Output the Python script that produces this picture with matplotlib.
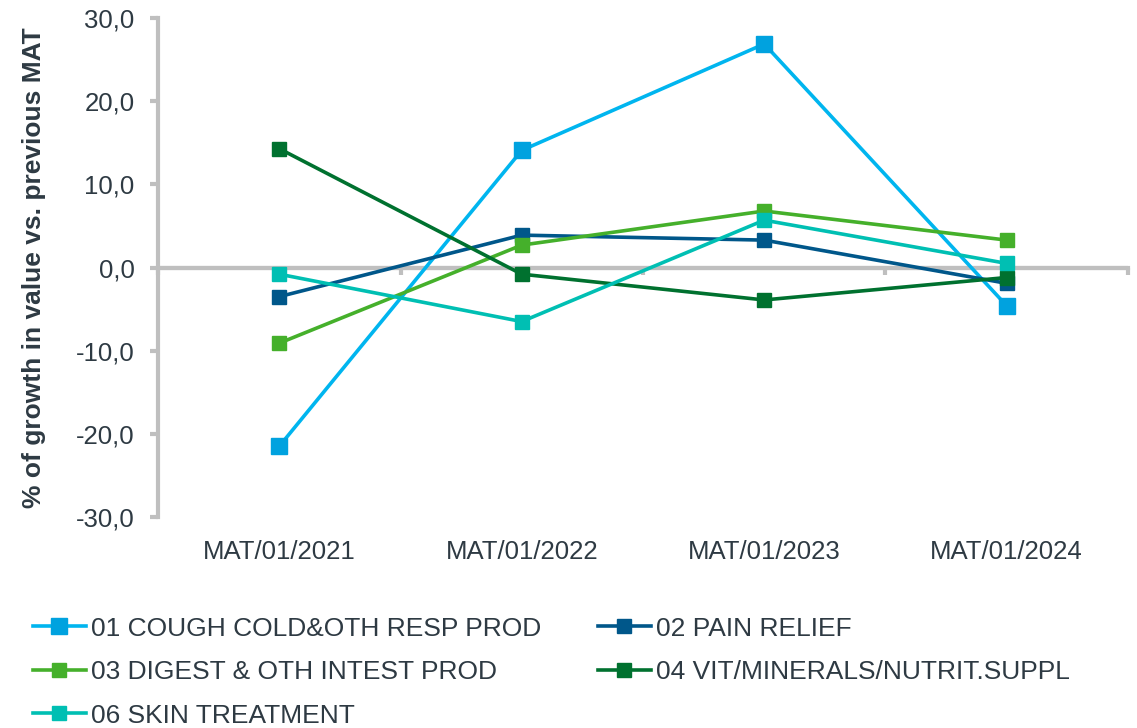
import numpy as np
import matplotlib.pyplot as plt

plt.rcParams['font.family'] = ['Liberation Sans', 'DejaVu Sans']

# data
periods = ['MAT/01/2021', 'MAT/01/2022', 'MAT/01/2023', 'MAT/01/2024']
cough = [-21.5, 14.1, 26.9, -4.6]
pain = [-3.5, 3.9, 3.3, -1.9]
digest = [-9.1, 2.7, 6.8, 3.3]
vitamins = [14.3, -0.8, -3.9, -1.2]
skin = [-0.8, -6.5, 5.7, 0.5]

names = ['01 COUGH COLD&OTH RESP PROD', '02 PAIN RELIEF',
         '03 DIGEST & OTH INTEST PROD', '04 VIT/MINERALS/NUTRIT.SUPPL',
         '06 SKIN TREATMENT']
line_cols = ['#00B5EF', '#00578A', '#45B02B', '#00712F', '#00BFB3']
mark_cols = ['#00A2DF', '#00578A', '#45B02B', '#00712F', '#00BFB3']
mark_size = [11, 10, 10, 10, 10]
series = [cough, pain, digest, vitamins, skin]

grey = '#BFBFBF'
txt = '#2E3A43'

fig = plt.figure(figsize=(11.37, 7.28), dpi=100)
ax = fig.add_axes([0.139, 0.290, 0.853, 0.685])

x = np.arange(len(periods))
handles = []
for vals, lc, mc, ms, name in zip(series, line_cols, mark_cols, mark_size, names):
    h, = ax.plot(x, vals, color=lc, lw=2.6, marker='s', ms=ms,
                 mfc=mc, mec=mc, label=name, zorder=3)
    handles.append(h)

ax.set_xlim(-0.5, 3.5)
ax.set_ylim(-30, 30)

# left axis
ax.spines['left'].set_color(grey)
ax.spines['left'].set_linewidth(3)
for s in ['top', 'right', 'bottom']:
    ax.spines[s].set_visible(False)
yt = np.arange(-30, 31, 10)
ax.set_yticks(yt)
ax.set_yticklabels(['{:.1f}'.format(v).replace('.', ',') for v in yt])
ax.tick_params(axis='y', direction='out', length=6, width=3, color=grey,
               labelsize=18.5, labelcolor=txt, pad=11)

# category labels at the bottom
ax.set_xticks(x)
ax.set_xticklabels(periods)
ax.tick_params(axis='x', length=0, labelsize=18.5, labelcolor=txt, pad=17)

# zero line with tick marks (pointing down) between the categories
ax.axhline(0, color=grey, lw=3, zorder=1)
zero = ax.secondary_xaxis(0.5)
for s in zero.spines.values():
    s.set_color(grey)
    s.set_linewidth(3)
zero.set_xticks(np.arange(-0.5, 3.6, 1))
zero.set_xticklabels([])
zero.tick_params(axis='x', direction='in', length=5, width=3, color=grey,
                 labelbottom=False, labeltop=False)

ax.set_ylabel('% of growth in value vs. previous MAT', fontsize=19,
              fontweight='bold', color=txt)
ax.yaxis.set_label_coords(-0.116, 0.5)

# legend fills row by row in the reference
order = [0, 2, 4, 1, 3]
fig.legend(handles=[handles[i] for i in order], loc='upper left',
           bbox_to_anchor=(0.029, 0.153), ncol=2, frameon=False, fontsize=19,
           labelcolor=txt, handlelength=2.0, handletextpad=0.2,
           columnspacing=2.15, labelspacing=0.74, borderaxespad=0, borderpad=0)

fig.savefig('out.png', dpi=100)
